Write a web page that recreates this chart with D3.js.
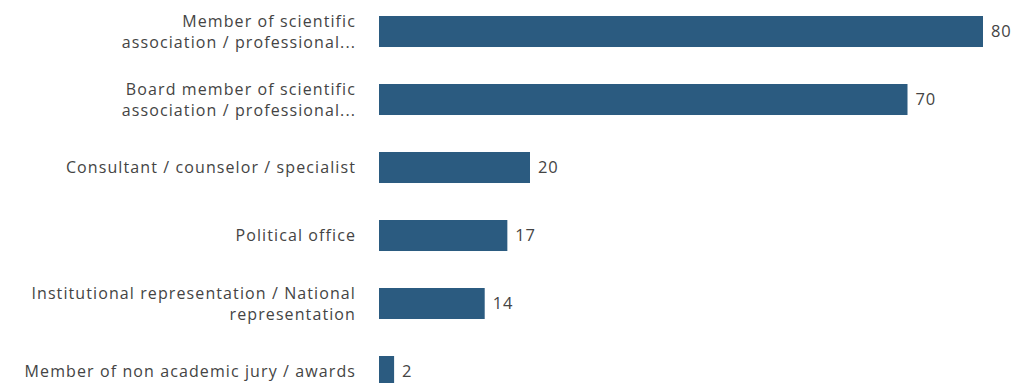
<!DOCTYPE html>
<html>
<head>
<meta charset="utf-8">
<script src="https://cdn.jsdelivr.net/npm/d3@7"></script>
<style>
  body { margin: 0; background: #fff; }
  svg { display: block; }
  text { font-family: "Open Sans", sans-serif; fill: #444; }
</style>
</head>
<body>
<svg id="chart" width="1015" height="383"></svg>
<script>
var categories = [
  ["Member of scientific", "association / professional..."],
  ["Board member of scientific", "association / professional..."],
  ["Consultant / counselor / specialist"],
  ["Political office"],
  ["Institutional representation / National", "representation"],
  ["Member of non academic jury / awards"]
];
var values = [80, 70, 20, 17, 14, 2];

var svg = d3.select('#chart');

var barLeft = 379,
    barRight = 983,
    labelRight = 356;

var x = d3.scaleLinear().domain([0, 80]).range([barLeft, barRight]);

var y = d3.scaleBand()
          .domain(d3.range(categories.length))
          .range([16 - 0.272 * 68, 16 - 0.272 * 68 + 6 * 68])
          .paddingInner(0.544)
          .paddingOuter(0.272);

var rows = svg.selectAll('g.row')
              .data(values)
              .enter()
              .append('g')
              .attr('class', 'row');

rows.append('rect')
    .attr('x', x(0))
    .attr('y', (d, i) => y(i))
    .attr('width', d => x(d) - x(0))
    .attr('height', y.bandwidth())
    .attr('fill', '#2b5b80');

rows.append('text')
    .attr('x', d => x(d) + 8)
    .attr('y', (d, i) => y(i) + y.bandwidth() / 2)
    .attr('dy', '0.35em')
    .style('font-size', '16.5px')
    .style('letter-spacing', '0.8px')
    .text(d => d);

var lineH = 21;
svg.selectAll('text.label')
   .data(categories)
   .enter()
   .append('text')
   .attr('class', 'label')
   .attr('text-anchor', 'end')
   .style('font-size', '16px')
   .style('letter-spacing', '1.1px')
   .each(function(lines, i) {
     var cy = y(i) + y.bandwidth() / 2;
     var start = cy - (lines.length - 1) * lineH / 2;
     d3.select(this).selectAll('tspan')
       .data(lines)
       .enter()
       .append('tspan')
       .attr('x', labelRight)
       .attr('y', (l, j) => start + j * lineH)
       .attr('dy', '0.35em')
       .text(l => l);
   });
</script>
</body>
</html>
